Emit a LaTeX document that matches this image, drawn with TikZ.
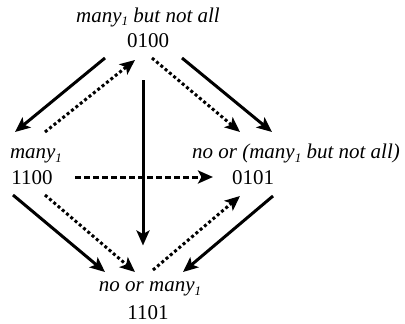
\documentclass[tikz,border=0pt]{standalone}
\usepackage{fontspec}
\setmainfont{Liberation Serif}
\usetikzlibrary{arrows.meta}
\newcommand{\subone}{{\fontsize{13}{13}\selectfont\raisebox{-4pt}{1}}}
\begin{document}
\begin{tikzpicture}[x=1pt,y=-1pt,
  txt/.style={inner sep=0pt,font=\fontsize{21}{23}\selectfont},
  lab/.style={txt,font=\fontsize{21}{23}\selectfont\itshape},
  arr/.style={line width=3pt,-{Stealth[length=15pt,width=13pt,inset=3.5pt]}},
  solidarr/.style={arr},
  dotarr/.style={arr,dash pattern=on 3pt off 2.6pt},
  dasharr/.style={arr,dash pattern=on 6pt off 3pt}]
\useasboundingbox (0,0) rectangle (405,324);
% nodes
\node[txt] (n0100) at (148,40.5) {0100};
\node[lab,anchor=base] (l0100) at (148,22) {many\subone{} but not all};
\node[txt] (n1100) at (32,178) {1100};
\node[lab,anchor=base] (l1100) at (36,158) {many\subone};
\node[txt] (n0101) at (253,178) {0101};
\node[lab,anchor=base] (l0101) at (296,158) {no or (many\subone{} but not all)};
\node[txt] (n1101) at (148,312.5) {1101};
\node[lab,anchor=base] (l1101) at (150,291) {no or many\subone};
% connectors
\draw[solidarr] ([shift={(-43,17.5)}]n0100.center) -- ([shift={(-17,-46)}]n1100.center);
\draw[dotarr]   ([shift={(13,-46)}]n1100.center) -- ([shift={(-13,19.5)}]n0100.center);
\draw[dotarr]   ([shift={(4,17.5)}]n0100.center) -- ([shift={(-13,-46)}]n0101.center);
\draw[solidarr] ([shift={(34,17.5)}]n0100.center) -- ([shift={(19,-46)}]n0101.center);
\draw[solidarr] ([shift={(-5,39.5)}]n0100.center) -- ([shift={(-5,-67)}]n1101.center);
\draw[dasharr]  ([shift={(43,-1)}]n1100.center) -- ([shift={(-40,-1)}]n0101.center);
\draw[solidarr] ([shift={(-19,17)}]n1100.center) -- ([shift={(-43,-40.5)}]n1101.center);
\draw[dotarr]   ([shift={(13,17)}]n1100.center) -- ([shift={(-13,-40.5)}]n1101.center);
\draw[dotarr]   ([shift={(5,-42.5)}]n1101.center) -- ([shift={(-13,18)}]n0101.center);
\draw[solidarr] ([shift={(20,18)}]n0101.center) -- ([shift={(35,-40.5)}]n1101.center);
\end{tikzpicture}
\end{document}
